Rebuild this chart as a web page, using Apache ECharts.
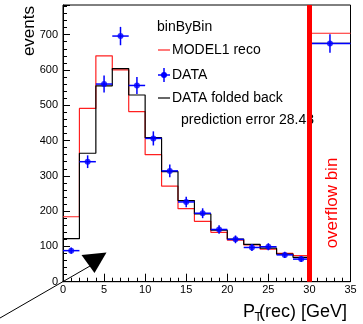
<!DOCTYPE html>
<html>
<head>
<meta charset="utf-8">
<script src="https://cdn.jsdelivr.net/npm/echarts@6/dist/echarts.min.js"></script>
<style>
  html, body { margin: 0; padding: 0; background: #fff; }
  #chart { width: 363px; height: 324px; }
</style>
</head>
<body>
<div id="chart"></div>
<script>
// bin edges (last bin is the overflow bin 30-35)
const binEdges = [0, 2, 4, 6, 8, 10, 12, 14, 16, 18, 20, 22, 24, 26, 28, 30, 35];
const model1Reco = [184, 491, 640, 600, 482, 360, 271, 207, 171, 140, 118, 104, 92, 80, 74, 704];
const foldedBack = [122, 364, 555, 604, 529, 408, 312, 230, 192, 146, 121, 106, 95, 78, 69, 675];
const dataValues = [88, 340, 560, 696, 556, 406, 314, 226, 194, 148, 120, 97, 99, 76, 64, 675];
const dataErrors = [9, 18, 24, 26, 24, 20, 18, 15, 14, 12, 11, 10, 10, 9, 8, 26];
const xTicks = [0, 5, 10, 15, 20, 25, 30, 35];
const yTicks = [0, 100, 200, 300, 400, 500, 600, 700];

const FONT = 'Liberation Sans, Arial, Helvetica, sans-serif';

// step outline: left edge of every bin, plus the right edge of the last one
function stepData(values) {
  const pts = values.map((v, i) => [binEdges[i], v]);
  pts.push([binEdges[binEdges.length - 1], values[values.length - 1]]);
  return pts;
}

const points = dataValues.map((v, i) => {
  const lo = binEdges[i], hi = binEdges[i + 1];
  return [(lo + hi) / 2, v, lo, hi, dataErrors[i]];
});

const chart = echarts.init(document.getElementById('chart'));

chart.setOption({
  animation: false,
  backgroundColor: '#fff',
  grid: {
    left: 63, right: 12.5, top: 5, bottom: 42.3,
    show: true, borderColor: '#000', borderWidth: 1
  },
  xAxis: {
    type: 'value',
    min: xTicks[0], max: xTicks[xTicks.length - 1], interval: 5,
    axisLine: { lineStyle: { color: '#000', width: 1 } },
    axisTick: { inside: true, length: 8, lineStyle: { color: '#000' } },
    minorTick: { show: true, splitNumber: 5, length: 4, lineStyle: { color: '#000' } },
    splitLine: { show: false },
    axisLabel: { color: '#000', fontFamily: FONT, fontSize: 11, margin: 3 }
  },
  yAxis: {
    type: 'value',
    min: yTicks[0], max: 784, interval: 100,
    axisLine: { show: true, lineStyle: { color: '#000', width: 1 } },
    axisTick: { inside: true, length: 7, lineStyle: { color: '#000' } },
    minorTick: { show: true, splitNumber: 5, length: 4, lineStyle: { color: '#000' } },
    splitLine: { show: false },
    axisLabel: { color: '#000', fontFamily: FONT, fontSize: 11, margin: 5, showMaxLabel: false }
  },
  series: [
    {
      name: 'MODEL1 reco',
      type: 'line',
      step: 'end',
      symbol: 'none',
      data: stepData(model1Reco),
      lineStyle: { color: '#ff2020', width: 1.2 },
      z: 2,
      markLine: {
        silent: true,
        symbol: 'none',
        label: { show: false },
        lineStyle: { color: '#ff0000', width: 5, type: 'solid' },
        data: [{ xAxis: 30 }],
        z: 10
      }
    },
    {
      name: 'DATA folded back',
      type: 'line',
      step: 'end',
      symbol: 'none',
      data: stepData(foldedBack),
      lineStyle: { color: '#000', width: 1.2 },
      z: 3
    },
    {
      name: 'DATA errors',
      type: 'custom',
      data: points,
      z: 4,
      renderItem: (params, api) => {
        const c = api.coord([api.value(0), api.value(1)]);
        const l = api.coord([api.value(2), api.value(1)]);
        const r = api.coord([api.value(3), api.value(1)]);
        const t = api.coord([api.value(0), api.value(1) + api.value(4)]);
        const b = api.coord([api.value(0), api.value(1) - api.value(4)]);
        const style = { stroke: '#0000ff', lineWidth: 1.5 };
        return {
          type: 'group',
          children: [
            { type: 'line', shape: { x1: l[0], y1: c[1], x2: r[0], y2: c[1] }, style },
            { type: 'line', shape: { x1: c[0], y1: t[1], x2: c[0], y2: b[1] }, style }
          ]
        };
      }
    },
    {
      name: 'DATA',
      type: 'scatter',
      symbol: 'circle',
      symbolSize: 6,
      data: points.map((p) => [p[0], p[1]]),
      itemStyle: { color: '#0000ff' },
      z: 5
    }
  ],
  graphic: [
    // axis titles
    {
      type: 'text', x: 29, y: 6, rotation: Math.PI / 2,
      style: { text: 'events', fontFamily: FONT, fontSize: 17, fill: '#000', align: 'right', verticalAlign: 'middle' }
    },
    {
      type: 'text', x: 243, y: 312,
      style: { text: 'P', fontFamily: FONT, fontSize: 18, fill: '#000', align: 'left', verticalAlign: 'middle' }
    },
    {
      type: 'text', x: 254.5, y: 318,
      style: { text: 'T', fontFamily: FONT, fontSize: 12, fill: '#000', align: 'left', verticalAlign: 'middle' }
    },
    {
      type: 'text', x: 347, y: 312,
      style: { text: '(rec) [GeV]', fontFamily: FONT, fontSize: 18, fill: '#000', align: 'right', verticalAlign: 'middle' }
    },
    // overflow label
    {
      type: 'text', x: 332, y: 203, rotation: Math.PI / 2,
      style: { text: 'overflow bin', fontFamily: FONT, fontSize: 17, fill: '#ff0000', align: 'center', verticalAlign: 'middle' }
    },
    // legend
    {
      type: 'text', x: 157, y: 27,
      style: { text: 'binByBin', fontFamily: FONT, fontSize: 14, fill: '#000', verticalAlign: 'middle' }
    },
    { type: 'line', shape: { x1: 158, y1: 50, x2: 170, y2: 50 }, style: { stroke: '#ff2020', lineWidth: 1.2 } },
    {
      type: 'text', x: 172, y: 50,
      style: { text: 'MODEL1 reco', fontFamily: FONT, fontSize: 14, fill: '#000', verticalAlign: 'middle' }
    },
    { type: 'line', shape: { x1: 158, y1: 75, x2: 170, y2: 75 }, style: { stroke: '#0000ff', lineWidth: 1.5 } },
    { type: 'line', shape: { x1: 164, y1: 68, x2: 164, y2: 82 }, style: { stroke: '#0000ff', lineWidth: 1.5 } },
    { type: 'circle', shape: { cx: 164, cy: 75, r: 3 }, style: { fill: '#0000ff' } },
    {
      type: 'text', x: 172, y: 75,
      style: { text: 'DATA', fontFamily: FONT, fontSize: 14, fill: '#000', verticalAlign: 'middle' }
    },
    { type: 'line', shape: { x1: 158, y1: 98, x2: 170, y2: 98 }, style: { stroke: '#000', lineWidth: 1.2 } },
    {
      type: 'text', x: 172, y: 98,
      style: { text: 'DATA folded back', fontFamily: FONT, fontSize: 14, fill: '#000', verticalAlign: 'middle' }
    },
    {
      type: 'text', x: 181, y: 120,
      style: { text: 'prediction error 28.43', fontFamily: FONT, fontSize: 14, fill: '#000', verticalAlign: 'middle' }
    },
    // arrow annotation
    { type: 'line', shape: { x1: 0, y1: 318, x2: 90, y2: 266 }, style: { stroke: '#000', lineWidth: 1 } },
    { type: 'polygon', shape: { points: [[81.5, 255], [106.5, 252.5], [94.5, 273]] }, style: { fill: '#000' } }
  ]
});
</script>
</body>
</html>
